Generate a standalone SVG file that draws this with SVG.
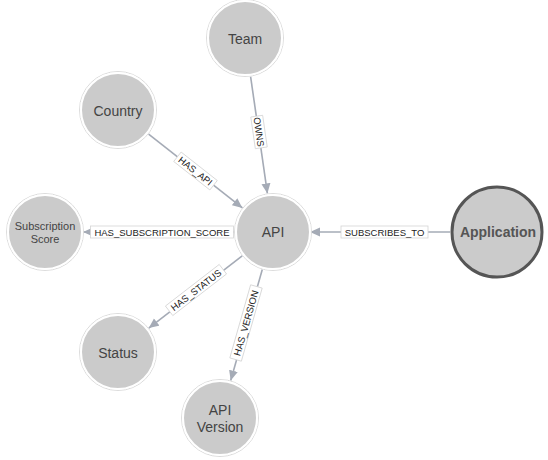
<svg xmlns="http://www.w3.org/2000/svg" width="548" height="460" viewBox="0 0 548 460">
<defs>
<style>
.node circle.body{fill:#cbcbcb;stroke:#fff;stroke-width:2}
.node circle.ring{fill:none;stroke:#dcdcdc;stroke-width:1}
.node text{font-family:"Liberation Sans",Arial,sans-serif;font-size:14px;fill:#444;text-anchor:middle;dominant-baseline:central}
.edges line{stroke:#a5abb6;stroke-width:1.6}
.lbl rect{fill:#fff;stroke:#d4d4d4;stroke-width:0.8}
.lbl text{font-family:"Liberation Sans",Arial,sans-serif;font-size:9.5px;fill:#222;text-anchor:middle;dominant-baseline:central}
</style>
<marker id="arr" markerUnits="userSpaceOnUse" markerWidth="11" markerHeight="10" refX="10" refY="4.5" orient="auto">
<path d="M0,0 L10,4.5 L0,9 z" fill="#a5abb6"/>
</marker>
</defs>
<rect width="548" height="460" fill="#fff"/>
<g id="connectors" class="edges">
<line x1="250.6" y1="76.6" x2="267.4" y2="193.4" marker-end="url(#arr)"/>
<line x1="148.6" y1="134.1" x2="242.4" y2="207.9" marker-end="url(#arr)"/>
<line x1="234" y1="232" x2="83" y2="232" marker-end="url(#arr)"/>
<line x1="450" y1="232" x2="310" y2="232" marker-end="url(#arr)"/>
<line x1="242.2" y1="255.9" x2="148.8" y2="328.1" marker-end="url(#arr)"/>
<line x1="262.3" y1="269.5" x2="230.7" y2="380.5" marker-end="url(#arr)"/>
<g class="lbl" transform="translate(259,132) rotate(81.8)"><rect x="-16" y="-6" width="32" height="12"/><text>OWNS</text></g>
<g class="lbl" transform="translate(195.5,171) rotate(38.2)"><rect x="-23" y="-6" width="46" height="12"/><text>HAS_API</text></g>
<g class="lbl" transform="translate(162,232)"><rect x="-71.5" y="-6" width="143" height="12"/><text>HAS_SUBSCRIPTION_SCORE</text></g>
<g class="lbl" transform="translate(384.5,232)"><rect x="-43.5" y="-6" width="87" height="12"/><text>SUBSCRIBES_TO</text></g>
<g class="lbl" transform="translate(196,290) rotate(-37.7)"><rect x="-34" y="-6" width="68" height="12"/><text>HAS_STATUS</text></g>
<g class="lbl" transform="translate(246,323) rotate(-74.1)"><rect x="-38" y="-6" width="76" height="12"/><text>HAS_VERSION</text></g>
</g>
<g id="node-team" class="node"><circle class="ring" cx="245" cy="38" r="38.5"/><circle class="body" cx="245" cy="38" r="37"/><text x="245" y="39">Team</text></g>
<g id="node-country" class="node"><circle class="ring" cx="118" cy="110" r="38.5"/><circle class="body" cx="118" cy="110" r="37"/><text x="118" y="111">Country</text></g>
<g id="node-subscription-score" class="node"><circle class="ring" cx="45" cy="232" r="38.5"/><circle class="body" cx="45" cy="232" r="37"/><text x="45" y="232" style="font-size:11px"><tspan x="45" dy="-6">Subscription</tspan><tspan x="45" dy="13">Score</tspan></text></g>
<g id="node-api" class="node"><circle class="ring" cx="273" cy="232" r="38.5"/><circle class="body" cx="273" cy="232" r="37"/><text x="273" y="232">API</text></g>
<g id="node-application" class="node"><circle cx="497" cy="232" r="45" fill="#cbcbcb" stroke="#555" stroke-width="3"/><text x="498" y="232" style="font-size:14px;font-weight:bold;fill:#555">Application</text></g>
<g id="node-status" class="node"><circle class="ring" cx="118" cy="352" r="38.5"/><circle class="body" cx="118" cy="352" r="37"/><text x="118" y="353">Status</text></g>
<g id="node-api-version" class="node"><circle class="ring" cx="220" cy="418" r="38.5"/><circle class="body" cx="220" cy="418" r="37"/><text x="220" y="418"><tspan x="220" dy="-8">API</tspan><tspan x="220" dy="17">Version</tspan></text></g>
</svg>
